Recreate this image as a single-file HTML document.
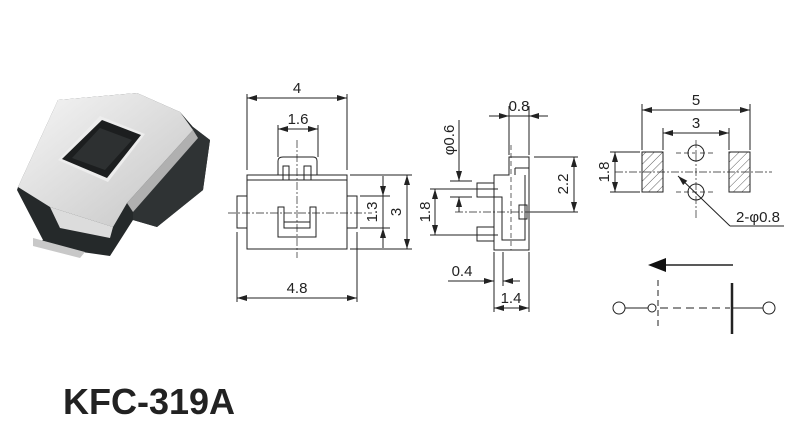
<!DOCTYPE html>
<html><head><meta charset="utf-8"><style>
body{margin:0;background:#fff;width:800px;height:431px;overflow:hidden}
svg{display:block}
text{font-family:"Liberation Sans",Arial,sans-serif;fill:#222}
</style></head><body>
<svg width="800" height="431" viewBox="0 0 800 431" xmlns="http://www.w3.org/2000/svg">
<defs>
<marker id="a" viewBox="0 0 10 6" refX="10" refY="3" markerWidth="10" markerHeight="6" orient="auto-start-reverse" markerUnits="userSpaceOnUse"><path d="M0,0L10,3L0,6z" fill="#222"/></marker>
<pattern id="h" width="6" height="6" patternUnits="userSpaceOnUse" patternTransform="rotate(45)"><line x1="0" y1="0" x2="0" y2="6" stroke="#333" stroke-width="0.8"/></pattern>
<linearGradient id="m" x1="0" y1="0" x2="1" y2="1"><stop offset="0" stop-color="#f6f6f6"/><stop offset="1" stop-color="#c4c4c4"/></linearGradient>
</defs>

<!-- photo -->
<g>
<polygon points="17,190 43,240 33,245 110,256 133,220 157,227 203,190 210,140 193,127 180,112 137,93 58,100 18,187" fill="#25292a"/>
<polygon points="133,190 193,127 210,140 203,190 157,227 133,220" fill="#2f3334"/>
<polygon points="18,187 58,100 137,93 180,112 193,130 127,203 113,227 50,207" fill="url(#m)"/>
<polygon points="50,207 113,227 110,238 60,228" fill="#dcdcdc"/>
<polygon points="127,203 193,130 198,138 133,212" fill="#b0b0b0"/>
<polygon points="100,116 145,134 108,182 58,160" fill="#ededed"/>
<polygon points="102,120 141,135 107,178 62,159" fill="#1c1e1f"/>
<polygon points="100,128 132,140 105,170 72,158" fill="#2d3031"/>
<polygon points="33,238 85,252 80,258 33,246" fill="#c8c8c8"/>
</g>

<g stroke="#222" stroke-width="1" fill="none">
<!-- front view -->
<line x1="247" y1="94" x2="247" y2="170"/><line x1="347" y1="94" x2="347" y2="170"/>
<line x1="247" y1="98" x2="347" y2="98" marker-start="url(#a)" marker-end="url(#a)"/>
<line x1="278" y1="125" x2="278" y2="157"/><line x1="318" y1="125" x2="318" y2="157"/>
<line x1="278" y1="129" x2="318" y2="129" marker-start="url(#a)" marker-end="url(#a)"/>
<rect x="247" y="175" width="100" height="74"/>
<line x1="247" y1="180" x2="347" y2="180"/>
<path d="M278,175V161Q278,157 283,157H313Q317,157 317,161V175"/>
<path d="M283,180V166H289V180M304,180V166H311V180"/>
<rect x="237" y="196" width="10" height="32"/><rect x="347" y="196" width="10" height="32"/>
<path d="M278,207V237H316V207H310V228H284V207Z"/>
<path d="M284,222H310"/>
<line x1="297" y1="140" x2="297" y2="258" stroke-dasharray="8,2,2,2" stroke-width="0.7"/>
<line x1="228" y1="213" x2="372" y2="213" stroke-dasharray="8,2,2,2" stroke-width="0.7"/>
<line x1="350" y1="175" x2="412" y2="175"/><line x1="350" y1="249" x2="412" y2="249"/>
<line x1="360" y1="196" x2="390" y2="196"/><line x1="360" y1="228" x2="390" y2="228"/>
<line x1="383" y1="176" x2="383" y2="196" marker-end="url(#a)"/><line x1="383" y1="248" x2="383" y2="228" marker-end="url(#a)"/><line x1="383" y1="196" x2="383" y2="228"/>
<line x1="407" y1="175" x2="407" y2="249" marker-start="url(#a)" marker-end="url(#a)"/>
<line x1="237" y1="232" x2="237" y2="302"/><line x1="357" y1="232" x2="357" y2="302"/>
<line x1="237" y1="298" x2="357" y2="298" marker-start="url(#a)" marker-end="url(#a)"/>

<!-- side view -->
<line x1="509" y1="106" x2="509" y2="155"/><line x1="529" y1="106" x2="529" y2="155"/>
<line x1="489" y1="116" x2="509" y2="116" marker-end="url(#a)"/><line x1="548" y1="116" x2="529" y2="116" marker-end="url(#a)"/><line x1="509" y1="116" x2="529" y2="116"/>
<path d="M494,175H509V157H529V250H494Z"/>
<path d="M515,168H529M515,168V175M525,175V240H502V197H494M502,197V215"/>
<rect x="477" y="183" width="17" height="14"/><rect x="477" y="227" width="17" height="14"/>
<rect x="519" y="205" width="8" height="14"/>
<line x1="511" y1="145" x2="511" y2="250" stroke-dasharray="5,3" stroke-width="0.7"/>
<line x1="455" y1="212" x2="560" y2="212" stroke-dasharray="8,2,2,2" stroke-width="0.7"/>
<line x1="534" y1="157" x2="578" y2="157"/><line x1="530" y1="212" x2="578" y2="212"/>
<line x1="574" y1="157" x2="574" y2="212" marker-start="url(#a)" marker-end="url(#a)"/>
<line x1="430" y1="189" x2="498" y2="189"/><line x1="430" y1="235" x2="498" y2="235"/>
<line x1="435" y1="189" x2="435" y2="235" marker-start="url(#a)" marker-end="url(#a)"/>
<line x1="450" y1="181" x2="472" y2="181"/><line x1="450" y1="197" x2="472" y2="197"/>
<line x1="459" y1="120" x2="459" y2="181" marker-end="url(#a)"/><line x1="459" y1="212" x2="459" y2="197" marker-end="url(#a)"/>
<line x1="494" y1="252" x2="494" y2="312"/><line x1="503" y1="252" x2="503" y2="286"/><line x1="529" y1="252" x2="529" y2="312"/>
<line x1="448" y1="281" x2="494" y2="281" marker-end="url(#a)"/><line x1="520" y1="281" x2="503" y2="281" marker-end="url(#a)"/>
<line x1="494" y1="308" x2="529" y2="308" marker-start="url(#a)" marker-end="url(#a)"/>

<!-- PCB layout -->
<line x1="642" y1="104" x2="642" y2="150"/><line x1="750" y1="104" x2="750" y2="150"/>
<line x1="642" y1="110" x2="750" y2="110" marker-start="url(#a)" marker-end="url(#a)"/>
<line x1="663" y1="128" x2="663" y2="150"/><line x1="729" y1="128" x2="729" y2="150"/>
<line x1="663" y1="133" x2="729" y2="133" marker-start="url(#a)" marker-end="url(#a)"/>
<rect x="642" y="152" width="21" height="40" fill="url(#h)"/><rect x="729" y="152" width="21" height="40" fill="url(#h)"/>
<circle cx="696" cy="153" r="8"/><circle cx="696" cy="192" r="8"/>
<line x1="676" y1="153" x2="716" y2="153" stroke-dasharray="5,3" stroke-width="0.7"/>
<line x1="676" y1="192" x2="716" y2="192" stroke-dasharray="5,3" stroke-width="0.7"/>
<line x1="696" y1="140" x2="696" y2="218" stroke-dasharray="8,2,2,2" stroke-width="0.7"/>
<line x1="615" y1="172" x2="772" y2="172" stroke-dasharray="8,2,2,2" stroke-width="0.7"/>
<line x1="610" y1="152" x2="640" y2="152"/><line x1="610" y1="192" x2="640" y2="192"/>
<line x1="615" y1="152" x2="615" y2="192" marker-start="url(#a)" marker-end="url(#a)"/>
<line x1="678" y1="176" x2="730" y2="226" marker-start="url(#a)"/><line x1="730" y1="226" x2="784" y2="226"/>
<!-- circuit -->
<line x1="663" y1="265" x2="733" y2="265" stroke-width="1.5"/>
<path d="M648,265L666,258L666,272Z" fill="#111" stroke="none"/>
<circle cx="619" cy="308" r="6"/><line x1="625" y1="308" x2="648" y2="308"/><circle cx="652" cy="308" r="4"/>
<line x1="658" y1="280" x2="658" y2="326" stroke-dasharray="6,4"/>
<line x1="660" y1="308" x2="730" y2="308" stroke-dasharray="8,5"/>
<line x1="732" y1="283" x2="732" y2="334" stroke-width="2.5"/>
<line x1="732" y1="308" x2="763" y2="308"/><circle cx="769" cy="308" r="6"/>
</g>

<g font-size="15">
<text x="297" y="93" text-anchor="middle">4</text>
<text x="298" y="124" text-anchor="middle">1.6</text>
<text x="297" y="293" text-anchor="middle">4.8</text>
<text transform="translate(377,212) rotate(-90)" text-anchor="middle">1.3</text>
<text transform="translate(401,212) rotate(-90)" text-anchor="middle">3</text>
<text x="519" y="111" text-anchor="middle">0.8</text>
<text transform="translate(568,184) rotate(-90)" text-anchor="middle">2.2</text>
<text transform="translate(430,212) rotate(-90)" text-anchor="middle">1.8</text>
<text transform="translate(454,140) rotate(-90)" text-anchor="middle">φ0.6</text>
<text x="462" y="276" text-anchor="middle">0.4</text>
<text x="511" y="303" text-anchor="middle">1.4</text>
<text x="696" y="105" text-anchor="middle">5</text>
<text x="696" y="128" text-anchor="middle">3</text>
<text transform="translate(609,172) rotate(-90)" text-anchor="middle">1.8</text>
<text x="736" y="222">2-φ0.8</text>
</g>
<text x="63" y="414" font-size="36" font-weight="bold" fill="#111">KFC-319A</text>
</svg>
</body></html>
